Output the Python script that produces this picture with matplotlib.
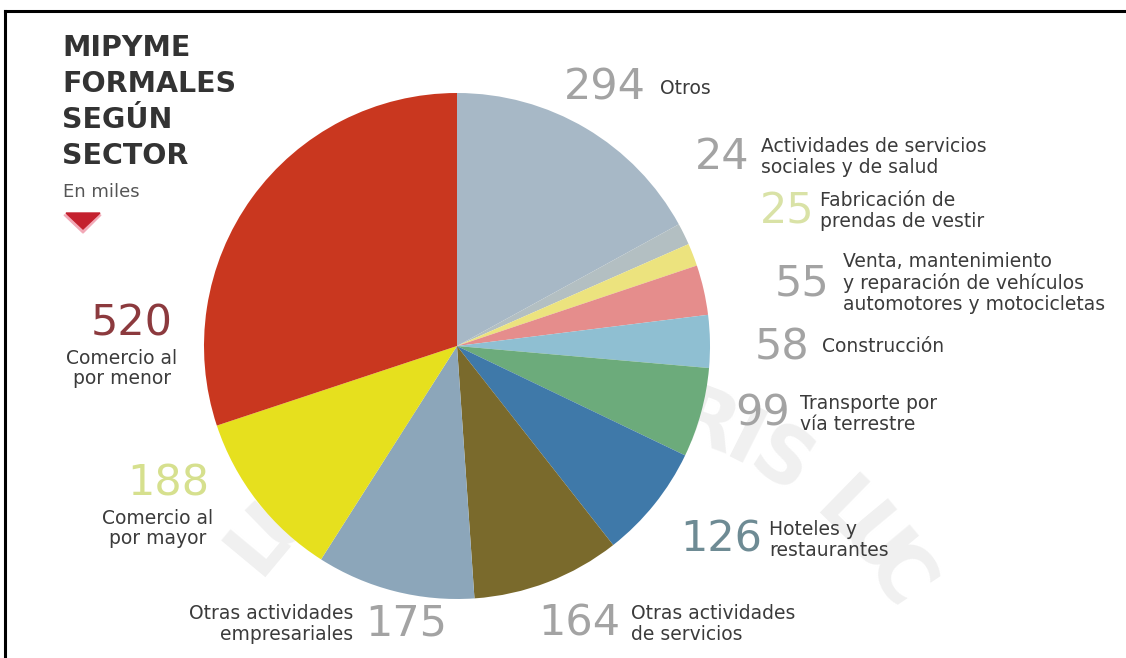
import numpy as np
import matplotlib.pyplot as plt
from matplotlib.lines import Line2D
from matplotlib.patches import Polygon

W, H = 1126, 658

# Sectores (miles de MIPYME formales), en orden horario desde las 12
sectors = [
    "Otros",
    "Actividades de servicios\nsociales y de salud",
    "Fabricación de\nprendas de vestir",
    "Venta, mantenimiento\ny reparación de vehículos\nautomotores y motocicletas",
    "Construcción",
    "Transporte por\nvía terrestre",
    "Hoteles y\nrestaurantes",
    "Otras actividades\nde servicios",
    "Otras actividades\nempresariales",
    "Comercio al\npor mayor",
    "Comercio al\npor menor",
]
values = [294, 24, 25, 55, 58, 99, 126, 164, 175, 188, 520]
colors = ["#a7b8c6", "#b3bfc2", "#ece37e", "#e58d8c", "#8fbfd2", "#6cab7b",
          "#3f79a9", "#7a6a2c", "#8ca6ba", "#e6e01e", "#c9371f"]
num_colors = ["#a3a3a3", "#a3a3a3", "#d9e2a6", "#a3a3a3", "#a3a3a3", "#a3a3a3",
              "#6e8b94", "#a3a3a3", "#a3a3a3", "#d6e08e", "#8c3a3e"]

# (x del número, y, alineación, separación) en píxeles desde arriba a la izquierda
label_pos = [
    (564, 88, "right", 14),
    (695, 157, "right", 11),
    (760, 211, "right", 5),
    (775, 283, "right", 13),
    (755, 347, "right", 12),
    (735, 414, "right", 10),
    (680, 540, "right", 7),
    (538, 624, "right", 11),
    (447, 624, "left", 12),
    (168, 483, "below", 0),
    (132, 323, "below", 0),
]

plt.rcParams["font.family"] = ["DejaVu Sans"]

fig = plt.figure(figsize=(W / 100, H / 100), dpi=100)
ax = fig.add_axes([0, 0, 1, 1])


def Y(py):
    return H - py


# marca de agua circular
seal = "ET LUX IN TENEBRIS LUCET"
cx, cy, R = 565, 800, 400
angs = np.linspace(158, 22, len(seal))
for ch, a in zip(seal, angs):
    t = np.deg2rad(a)
    px, py = cx + R * np.cos(t), cy - R * np.sin(t)
    if py > 585:
        continue
    ax.text(px, Y(py), ch, fontsize=56, fontweight="bold", color="#f0f0f0",
            rotation=a - 90, ha="center", va="center", zorder=0)

ax.pie(values, colors=colors, startangle=90, counterclock=False,
       center=(457, Y(346)), radius=253,
       wedgeprops=dict(linewidth=0), frame=False)
ax.set_xlim(0, W)
ax.set_ylim(0, H)
ax.set_aspect("equal")
ax.axis("off")

num_fs = 31
txt_fs = 13.5
txt_color = "#3b3b3b"
fig.canvas.draw()
for name, val, nc, (x, y, how, gap) in zip(sectors, values, num_colors, label_pos):
    if how == "right":
        t = ax.text(x, Y(y), str(val), fontsize=num_fs, color=nc,
                    ha="left", va="center", zorder=5)
        bb = t.get_window_extent(renderer=fig.canvas.get_renderer())
        ax.text(bb.x1 + gap, Y(y), name, fontsize=txt_fs, color=txt_color,
                ha="left", va="center", linespacing=1.12, zorder=5)
    elif how == "left":
        t = ax.text(x, Y(y), str(val), fontsize=num_fs, color=nc,
                    ha="right", va="center", zorder=5)
        bb = t.get_window_extent(renderer=fig.canvas.get_renderer())
        ax.text(bb.x0 - gap, Y(y), name, fontsize=txt_fs, color=txt_color,
                ha="right", va="center", multialignment="right",
                linespacing=1.12, zorder=5)
    else:
        ax.text(x, Y(y), str(val), fontsize=num_fs, color=nc,
                ha="center", va="center", zorder=5)
        ax.text(x - 10, Y(y + 26), name, fontsize=txt_fs, color=txt_color,
                ha="center", va="top", multialignment="center",
                linespacing=1.1, zorder=5)

# título
for i, line in enumerate(["MIPYME", "FORMALES", "SEGÚN", "SECTOR"]):
    ax.text(62, Y(48 + 36 * i), line, fontsize=20.5, fontweight="bold",
            color="#333333", ha="left", va="center")
ax.text(63, Y(192), "En miles", fontsize=13, color="#555555",
        ha="left", va="center")
ax.add_patch(Polygon([(64, Y(215)), (101, Y(215)), (83, Y(233))],
                     closed=True, color="#f2a9b7", zorder=4))
ax.add_patch(Polygon([(66, Y(213)), (100, Y(213)), (83, Y(229))],
                     closed=True, color="#c4202e", zorder=5))

# marco
fig.add_artist(Line2D([5 / W, 5 / W], [0, 1 - 11 / H], color="black", lw=2.2))
fig.add_artist(Line2D([5 / W, 1], [1 - 11 / H, 1 - 11 / H], color="black", lw=2.2))

fig.savefig("out.png", dpi=100)
